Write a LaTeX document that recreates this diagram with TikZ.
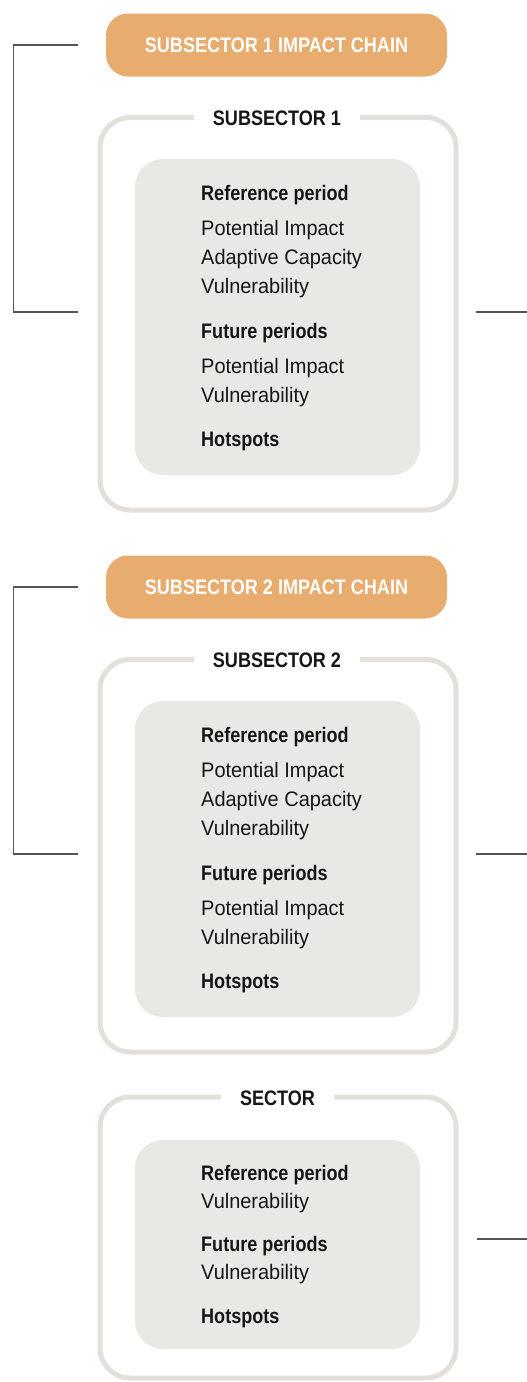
\documentclass[tikz,border=0pt]{standalone}
\usepackage{fontspec}
\setmainfont{Liberation Sans}[FakeStretch=0.95, BoldFeatures={FakeStretch=0.86}]
\definecolor{chainorange}{HTML}{E8AC6E}
\definecolor{framegray}{HTML}{E3E0DB}
\definecolor{innergray}{HTML}{EAE8E4}
\definecolor{txtdark}{HTML}{161616}
\definecolor{linegray}{HTML}{555555}
\tikzset{
  chainbox/.style={rectangle, rounded corners=22pt, fill=chainorange, minimum width=341pt, minimum height=63pt, inner sep=0pt, text=white, font=\fontsize{21}{24}\selectfont\bfseries},
  framebox/.style={rectangle, rounded corners=30pt, draw=framegray, line width=5pt, inner sep=0pt, minimum width=356pt},
  innerbox/.style={rectangle, rounded corners=28pt, fill=innergray, inner sep=0pt, minimum width=285pt},
  framelabel/.style={anchor=base, fill=white, inner xsep=19pt, inner ysep=4pt, text=txtdark, font=\fontsize{21}{24}\selectfont\bfseries},
  headtext/.style={anchor=base west, inner sep=0pt, text=txtdark, font=\fontsize{21}{24}\selectfont\bfseries},
  itemtext/.style={anchor=base west, inner sep=0pt, text=txtdark, font=\fontsize{21}{24}\selectfont},
  connector/.style={draw=linegray, line width=1.3pt}
}
\newcommand{\subsectorblock}[3]{%
\begin{scope}[yshift=-#2pt]
  \node[chainbox] (#1chain) at (276.5,45) {SUBSECTOR #3 IMPACT CHAIN};
  \node[framebox, minimum height=392.5pt] (#1frame) at (278,313.75) {};
  \node[innerbox, minimum height=316pt] (#1inner) at (277.5,317) {};
  \node[framelabel] (#1label) at (277,125) {SUBSECTOR #3};
  \node[headtext] (#1refhead) at (201,200) {Reference period};
  \node[itemtext] (#1refpi) at (201,235) {Potential Impact};
  \node[itemtext] (#1refac) at (201,264) {Adaptive Capacity};
  \node[itemtext] (#1refvu) at (201,293) {Vulnerability};
  \node[headtext] (#1futhead) at (201,338) {Future periods};
  \node[itemtext] (#1futpi) at (201,373) {Potential Impact};
  \node[itemtext] (#1futvu) at (201,402) {Vulnerability};
  \node[headtext] (#1hot) at (201,446) {Hotspots};
  \coordinate (#1brtop) at ([xshift=-28pt]#1chain.west);
  \coordinate (#1brbot) at (78,312);
  \coordinate (#1outa) at (476,312);
  \coordinate (#1outb) at (527,312);
  \draw[connector] (#1brtop) -- ++(-64,0) |- (#1brbot);
  \draw[connector] (#1outa) -- (#1outb);
\end{scope}}
\begin{document}
\begin{tikzpicture}[x=1pt,y=-1pt]
  \useasboundingbox (0,0) rectangle (527,1382);
  \subsectorblock{sa}{0}{1}
  \subsectorblock{sb}{542}{2}
  % sector
  \node[framebox, minimum height=281pt] (secframe) at (278,1237.5) {};
  \node[innerbox, minimum height=209pt] (secinner) at (277.5,1244.5) {};
  \node[framelabel] (seclabel) at (277.5,1105) {SECTOR};
  \node[headtext] (secrefhead) at (201,1180) {Reference period};
  \node[itemtext] (secrefvu) at (201,1208) {Vulnerability};
  \node[headtext] (secfuthead) at (201,1251) {Future periods};
  \node[itemtext] (secfutvu) at (201,1279) {Vulnerability};
  \node[headtext] (sechot) at (201,1323) {Hotspots};
  \coordinate (secouta) at (477,1239);
  \coordinate (secoutb) at (527,1239);
  \draw[connector] (secouta) -- (secoutb);
\end{tikzpicture}
\end{document}
